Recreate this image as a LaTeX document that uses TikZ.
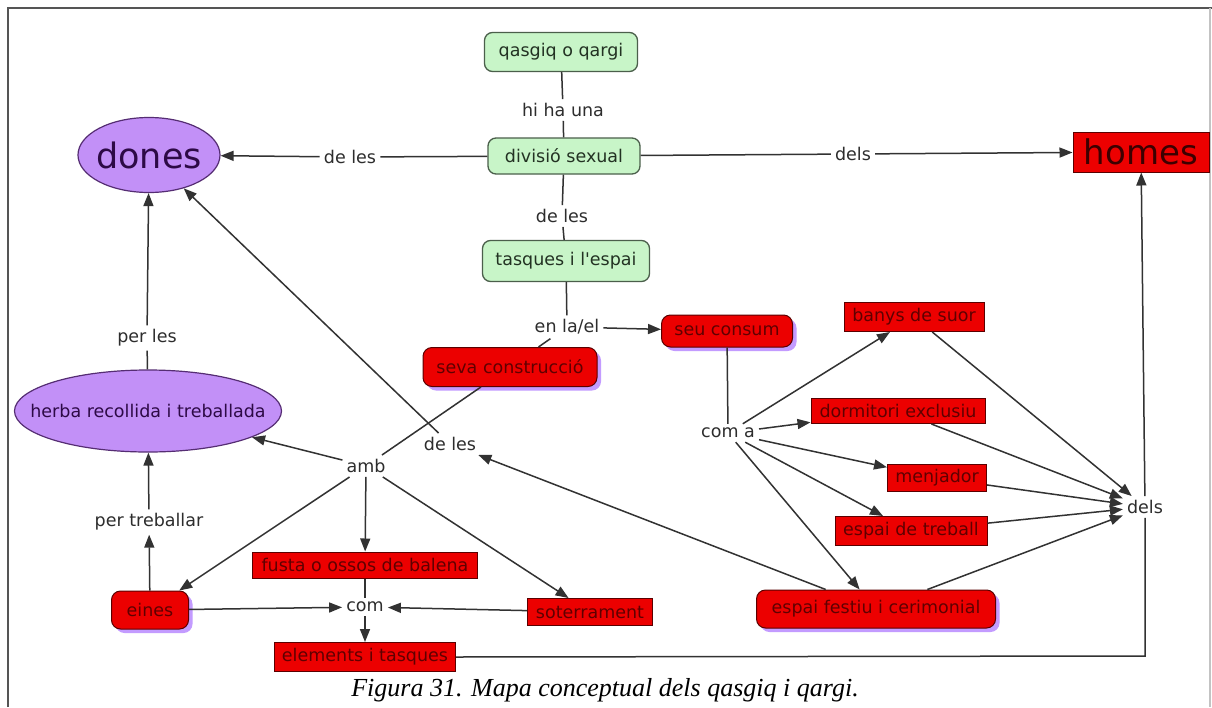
\documentclass[tikz,border=0pt]{standalone}
\usepackage{fontspec}
\setmainfont{DejaVu Sans}
\newfontfamily\capfont{Liberation Serif}
\usetikzlibrary{arrows.meta,shapes.geometric,shadows}
\definecolor{lineGrey}{RGB}{50,50,50}
\definecolor{labelGrey}{RGB}{45,45,45}
\definecolor{frameDark}{RGB}{85,85,85}
\definecolor{frameLight}{RGB}{195,195,195}
\definecolor{greenFill}{RGB}{200,245,200}
\definecolor{greenEdge}{RGB}{75,95,75}
\definecolor{greenText}{RGB}{35,50,35}
\definecolor{redFill}{RGB}{236,0,0}
\definecolor{redEdge}{RGB}{90,0,0}
\definecolor{redText}{RGB}{95,0,0}
\definecolor{homesText}{RGB}{60,0,0}
\definecolor{lavShadow}{RGB}{195,155,255}
\definecolor{purpFill}{RGB}{194,144,247}
\definecolor{purpEdge}{RGB}{85,45,115}
\definecolor{purpText}{RGB}{45,10,70}
\tikzset{
  greenbox/.style={draw=greenEdge, fill=greenFill, rounded corners=8pt, line width=1.3pt,
    text=greenText, inner sep=0pt},
  redrect/.style={draw=redEdge, fill=redFill, line width=1pt, text=redText, inner sep=0pt},
  redround/.style={redrect, rounded corners=9pt,
    drop shadow={shadow xshift=4pt, shadow yshift=-4pt, fill=lavShadow, opacity=1}},
  purpleoval/.style={ellipse, draw=purpEdge, fill=purpFill, line width=1.2pt, inner sep=0pt},
  ovaltext/.style={text=purpText, inner sep=0pt},
  linkword/.style={text=labelGrey, inner sep=4pt},
  link/.style={draw=lineGrey, line width=1.5pt},
  arr/.style={link, -{Triangle[length=13pt,width=10pt]}}
}
\begin{document}
\begin{tikzpicture}[x=1pt,y=-1pt, font=\fontsize{17.5}{20}\selectfont]
\useasboundingbox (0,0) rectangle (1212,707);
\fill[white] (0,0) rectangle (1212,707);

% page frame
\draw[frameDark, line width=2.4pt] (8,707) -- (8,8) -- (1212,8);
\draw[frameLight, line width=1.5pt] (1210,8) -- (1210,707);

% concepts
\node[greenbox, minimum width=153, minimum height=39] (qq) at (561,52) {qasgiq o qargi};
\node[greenbox, minimum width=152, minimum height=36] (div) at (564,156) {divisió sexual};
\node[greenbox, minimum width=167, minimum height=41] (tasq) at (566,261) {tasques i l\textquotesingle espai};

% ovals are sized by hand; their words sit on top
\node[purpleoval, minimum width=142, minimum height=75] (dones) at (149,155) {};
\node[ovaltext] (donesTxt) at (dones) {\fontsize{35}{40}\selectfont dones};
\node[purpleoval, minimum width=267, minimum height=82] (herba) at (148,411) {};
\node[ovaltext] (herbaTxt) at (herba) {herba recollida i treballada};

\node[redrect, minimum width=136, minimum height=40, text=homesText] (homes) at (1141,152)
  {\fontsize{34}{38}\selectfont homes};

\node[redround, minimum width=131, minimum height=32] (seu) at (727,331) {seu consum};
\node[redround, minimum width=174, minimum height=39] (seva) at (510,367) {seva construcció};
\node[redround, minimum width=77, minimum height=38] (eines) at (150,610) {eines};
\node[redround, minimum width=239, minimum height=38] (festiu) at (876,609) {espai festiu i cerimonial};

\node[redrect, minimum width=140, minimum height=29] (banys) at (914,317) {banys de suor};
\node[redrect, minimum width=174, minimum height=25] (dorm) at (898,411) {dormitori exclusiu};
\node[redrect, minimum width=99, minimum height=27] (menj) at (937,478) {menjador};
\node[redrect, minimum width=152, minimum height=29] (treb) at (911,531) {espai de treball};
\node[redrect, minimum width=225, minimum height=26] (fusta) at (365,565) {fusta o ossos de balena};
\node[redrect, minimum width=125, minimum height=27] (soter) at (590,612) {soterrament};
\node[redrect, minimum width=181, minimum height=29] (elem) at (365,657) {elements i tasques};

% linking words
\node[linkword] (hihauna) at (563,110) {hi ha una};
\node[linkword] (delesL) at (350,157) {de les};
\node[linkword] (delsT) at (853,154) {dels};
\node[linkword] (delesC) at (562,216) {de les};
\node[linkword] (enla) at (567,327) {en la/el};
\node[linkword] (perles) at (147,338) {per les};
\node[linkword] (delesM) at (450,444) {de les};
\node[linkword] (amb) at (366,466) {amb};
\node[linkword] (coma) at (728,433) {com a};
\node[linkword] (pertreb) at (149,522) {per treballar};
\node[linkword] (com) at (365,607) {com};
\node[linkword] (delsR) at (1145,507) {dels};
\coordinate (bend) at (1145,656);

% connectors
\draw[link] (qq) -- (hihauna) -- (div);
\draw[link] (div) -- (delesL);
\draw[arr] (delesL) -- (dones);
\draw[link] (div) -- (delsT);
\draw[arr] (delsT) -- (homes);
\draw[link] (div) -- (delesC) -- (tasq);
\draw[link] (tasq) -- (enla);
\draw[arr] (enla) -- (seu);
\draw[link] (enla) -- (seva);
\draw[link] (seva) -- (amb);
\draw[arr] (amb) -- (herba);
\draw[arr] (amb) -- (eines);
\draw[arr] (amb) -- (fusta);
\draw[arr] (amb) -- (soter);
\draw[link] (herba) -- (perles);
\draw[arr] (perles) -- (dones);
\draw[arr] (eines) -- (pertreb);
\draw[arr] (pertreb) -- (herba);
\draw[link] (fusta) -- (com);
\draw[arr] (eines) -- (com);
\draw[arr] (soter) -- (com);
\draw[arr] (com) -- (elem);
\draw[link] (elem.east) -- (bend) -- (delsR);
\draw[arr] (delsR) -- (homes);
\draw[link] (seu) -- (coma);
\draw[arr] (coma) -- (banys);
\draw[arr] (coma) -- (dorm);
\draw[arr] (coma) -- (menj);
\draw[arr] (coma) -- (treb);
\draw[arr] (coma) -- (festiu);
\draw[arr] (banys) -- (delsR);
\draw[arr] (dorm) -- (delsR);
\draw[arr] (menj) -- (delsR);
\draw[arr] (treb) -- (delsR);
\draw[arr] (festiu) -- (delsR);
\draw[arr] (festiu) -- (delesM);
\draw[arr] (delesM) -- (dones);

% caption
\node (cap) at (605,690) {\capfont\itshape\fontsize{26}{30}\selectfont Figura 31. Mapa conceptual dels qasgiq i qargi.};
\end{tikzpicture}
\end{document}
